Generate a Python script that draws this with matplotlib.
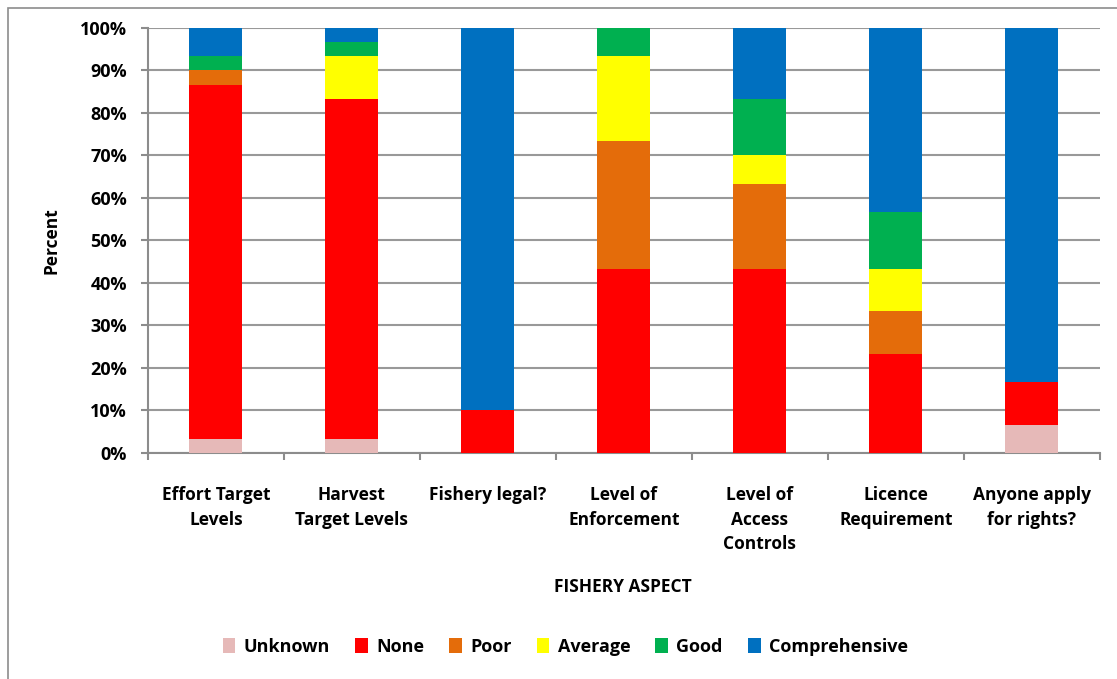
import matplotlib.pyplot as plt
import numpy as np
from matplotlib.patches import Rectangle

plt.rcParams['font.family'] = ['Open Sans', 'DejaVu Sans']
plt.rcParams['font.weight'] = 'bold'

categories = ['Effort Target\nLevels', 'Harvest\nTarget Levels', 'Fishery legal?',
              'Level of\nEnforcement', 'Level of\nAccess\nControls',
              'Licence\nRequirement', 'Anyone apply\nfor rights?']
series_names = ['Unknown', 'None', 'Poor', 'Average', 'Good', 'Comprehensive']
colors = ['#e6b9b8', '#ff0000', '#e46c0a', '#ffff00', '#00b050', '#0070c0']

unknown = [3.33, 3.33, 0, 0, 0, 0, 6.67]
none = [83.33, 80.0, 10.0, 43.33, 43.33, 23.33, 10.0]
poor = [3.33, 0, 0, 30.0, 20.0, 10.0, 0]
average = [0, 10.0, 0, 20.0, 6.67, 10.0, 0]
good = [3.33, 3.33, 0, 6.67, 13.33, 13.33, 0]
comprehensive = [6.67, 3.33, 90.0, 0, 16.67, 43.33, 83.33]
values = [unknown, none, poor, average, good, comprehensive]

fig = plt.figure(figsize=(11.17, 6.79), dpi=100)
ax = fig.add_axes([0.1325, 0.333, 0.852, 0.626])

x = np.arange(len(categories))
bottom = np.zeros(len(categories))
for name, vals, c in zip(series_names, values, colors):
    vals = np.array(vals)
    ax.bar(x, vals, 0.39, bottom=bottom, color=c, label=name, zorder=3)
    bottom += vals

ax.set_xlim(-0.5, len(categories) - 0.5)
ax.set_ylim(0, 100)
ax.set_yticks(np.arange(0, 101, 10))
ax.set_yticklabels([f'{v}%' for v in range(0, 101, 10)], fontsize=13, fontweight='bold')
ax.yaxis.grid(True, color='#999999', linewidth=1.5, zorder=0)
ax.set_xticks(x)
ax.set_xticklabels(categories, fontsize=12.5, fontweight='bold', linespacing=1.45)
ax.set_xticks(np.arange(-0.5, len(categories)), minor=True)
ax.tick_params(axis='x', which='major', length=0, pad=24)
ax.tick_params(axis='x', which='minor', length=5, width=1.5, color='#8c8c8c')
ax.tick_params(axis='y', length=5, width=1.5, color='#8c8c8c', pad=10)
for s in ['top', 'right']:
    ax.spines[s].set_visible(False)
for s in ['left', 'bottom']:
    ax.spines[s].set_color('#8c8c8c')
    ax.spines[s].set_linewidth(1.5)

ax.set_ylabel('Percent', fontsize=12.5, fontweight='bold', labelpad=14)
fig.text(0.558, 0.135, 'FISHERY ASPECT', ha='center', va='center', fontsize=12.5, fontweight='bold')

fig.legend(loc='center', bbox_to_anchor=(0.506, 0.047), ncol=6, frameon=False,
           prop={'weight': 'bold', 'size': 13}, handlelength=0.7, handleheight=0.9,
           handletextpad=0.45, columnspacing=1.4)

fig.patches.append(Rectangle((0.007, -0.01), 0.995, 0.998, transform=fig.transFigure,
                             fill=False, edgecolor='#8c8c8c', linewidth=1.2))

plt.savefig('out.png', dpi=100)
